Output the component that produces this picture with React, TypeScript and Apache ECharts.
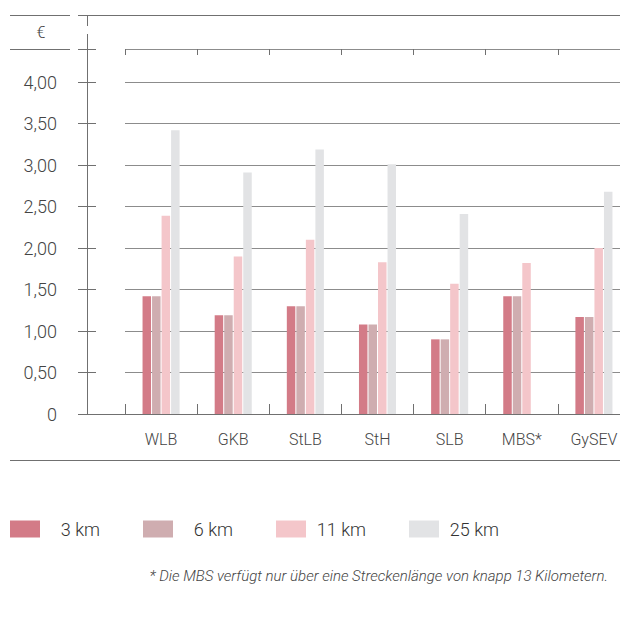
import React, { useEffect, useRef } from "react";
import * as echarts from "echarts";

const categories = ["WLB", "GKB", "StLB", "StH", "SLB", "MBS*", "GySEV"];
const seriesNames = ["3 km", "6 km", "11 km", "25 km"];
const km3 = [1.42, 1.19, 1.3, 1.08, 0.9, 1.42, 1.17];
const km6 = [1.42, 1.19, 1.3, 1.08, 0.9, 1.42, 1.17];
const km11 = [2.39, 1.9, 2.1, 1.83, 1.57, 1.82, 2.0];
const km25 = [3.42, 2.91, 3.19, 3.01, 2.41, null, 2.68];
const yTickValues = [0, 0.5, 1, 1.5, 2, 2.5, 3, 3.5, 4];
const yTickLabels = ["0", "0,50", "1,00", "1,50", "2,00", "2,50", "3,00", "3,50", "4,00"];
const colors = ["#d37b87", "#cfadb0", "#f4c6ca", "#e2e3e5"];
const footnote = "* Die MBS verfügt nur über eine Streckenlänge von knapp 13 Kilometern.";

const FONT = "Roboto";
const AXIS = "#707070";
const GRID = "#8c8c8c";

export default function App() {
  const ref = useRef<HTMLDivElement>(null);
  useEffect(() => {
    if (!ref.current) return;
    const chart = echarts.init(ref.current, null, { renderer: "svg" });
    const lineStyle = { stroke: AXIS, lineWidth: 1 };
    const seriesData = [km3, km6, km11, km25];
    const yBase = {
      type: "value" as const,
      min: 0,
      max: 4.4,
      interval: 0.5,
      position: "left" as const,
      offset: 38,
    };
    chart.setOption({
      animation: false,
      textStyle: { fontFamily: FONT },
      grid: {
        left: 125,
        top: 49,
        width: 505,
        bottom: 219,
        containLabel: false,
        outerBoundsMode: "none",
      },
      legend: {
        left: 10,
        top: 520,
        padding: 0,
        itemWidth: 30,
        itemHeight: 17,
        itemGap: 43,
        icon: "rect",
        data: seriesNames,
        formatter: (n: string) => `{t|${n}}`,
        textStyle: {
          rich: {
            t: {
              width: 55,
              align: "right",
              fontSize: 18,
              fontWeight: 300,
              fontFamily: FONT,
              color: "#333",
              lineHeight: 17,
            },
          },
        },
      },
      xAxis: [
        {
          type: "category",
          data: categories,
          position: "bottom",
          axisLine: { show: true, lineStyle: { color: AXIS, width: 1 } },
          axisTick: { show: true, inside: true, length: 10, lineStyle: { color: AXIS } },
          axisLabel: { margin: 17, fontSize: 16, fontWeight: 300, color: "#444", fontFamily: FONT },
          splitLine: { show: false },
        },
        {
          type: "category",
          data: categories,
          position: "top",
          axisLine: { show: true, lineStyle: { color: AXIS, width: 1 } },
          axisTick: { show: true, inside: false, length: 6, lineStyle: { color: AXIS } },
          axisLabel: { show: false },
        },
        {
          type: "category",
          data: categories,
          position: "top",
          axisLine: { show: false },
          axisTick: { show: true, inside: true, length: 6, lineStyle: { color: AXIS } },
          axisLabel: { show: false },
        },
      ],
      yAxis: [
        {
          ...yBase,
          axisLine: { show: true, lineStyle: { color: AXIS, width: 1 } },
          axisTick: { show: true, inside: false, length: 9, lineStyle: { color: AXIS } },
          axisLabel: {
            margin: 30,
            fontSize: 18,
            fontWeight: 300,
            color: "#444",
            fontFamily: FONT,
            formatter: (v: number) => {
              const i = yTickValues.findIndex((t) => Math.abs(t - v) < 1e-6);
              return i >= 0 ? yTickLabels[i] : "";
            },
          },
          splitLine: { show: true, lineStyle: { color: GRID, width: 1 } },
        },
        {
          ...yBase,
          axisLine: { show: false },
          axisTick: { show: true, inside: true, length: 9, lineStyle: { color: AXIS } },
          axisLabel: { show: false },
          splitLine: { show: false },
        },
      ],
      series: seriesNames.map((name, i) => ({
        name,
        type: "bar",
        xAxisIndex: 0,
        yAxisIndex: 0,
        data: seriesData[i],
        barWidth: 8.5,
        barGap: "12%",
        itemStyle: { color: colors[i] },
      })),
      graphic: [
        { type: "line", shape: { x1: 10, y1: 15.5, x2: 70, y2: 15.5 }, style: lineStyle },
        { type: "line", shape: { x1: 78, y1: 15.5, x2: 620, y2: 15.5 }, style: lineStyle },
        { type: "line", shape: { x1: 10, y1: 49.5, x2: 70, y2: 49.5 }, style: lineStyle },
        { type: "line", shape: { x1: 87.5, y1: 15, x2: 87.5, y2: 26 }, style: lineStyle },
        { type: "line", shape: { x1: 87.5, y1: 34, x2: 87.5, y2: 49 }, style: lineStyle },
        { type: "line", shape: { x1: 87, y1: 414.5, x2: 125, y2: 414.5 }, style: lineStyle },
        { type: "line", shape: { x1: 10, y1: 460.5, x2: 620, y2: 460.5 }, style: lineStyle },
        {
          type: "text",
          x: 41,
          y: 32,
          style: {
            text: "€",
            fontSize: 16,
            fontWeight: 300,
            fontFamily: FONT,
            fill: "#444",
            align: "center",
            verticalAlign: "middle",
          },
        },
        {
          type: "text",
          x: 608,
          y: 576,
          style: {
            text: footnote,
            fontSize: 15,
            fontStyle: "italic",
            fontWeight: 300,
            fontFamily: FONT,
            fill: "#444",
            align: "right",
            verticalAlign: "middle",
          },
        },
      ],
    });
    return () => chart.dispose();
  }, []);
  return (
    <div
      ref={ref}
      style={{ position: "absolute", left: 0, top: 0, width: 620, height: 633 }}
    />
  );
}
